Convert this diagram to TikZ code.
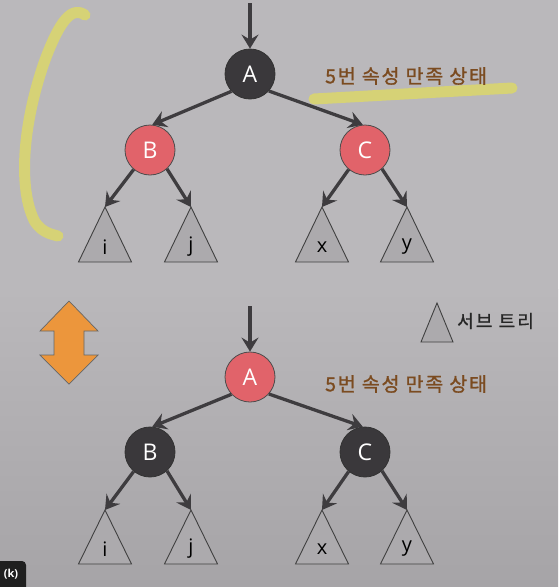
\documentclass[tikz,border=0pt]{standalone}
\usepackage{fontspec}
\setmainfont{Open Sans}
\newfontfamily\kr[LetterSpace=9,FakeBold=1.2]{Noto Sans CJK KR}
\newfontfamily\krleg[LetterSpace=12,FakeBold=0.8]{Noto Sans CJK KR}
\usetikzlibrary{arrows.meta}
\definecolor{bgtop}{RGB}{186,184,187}
\definecolor{bgbot}{RGB}{166,164,167}
\definecolor{darknode}{RGB}{58,56,59}
\definecolor{rednode}{RGB}{225,99,106}
\definecolor{edgecol}{RGB}{62,60,63}
\definecolor{trifill}{RGB}{172,170,173}
\definecolor{brownt}{RGB}{123,75,32}
\definecolor{hilite}{RGB}{214,210,118}
\definecolor{orangea}{RGB}{236,150,60}
\tikzset{
  blacknode/.style={circle,minimum size=50pt,inner sep=0pt,fill=darknode,draw=black!80,line width=0.8pt,text=white,font=\fontsize{23}{23}\selectfont},
  rednd/.style={circle,minimum size=50pt,inner sep=0pt,fill=rednode,draw=black!70,line width=0.8pt,text=white,font=\fontsize{23}{23}\selectfont},
  arr/.style={line width=3.3pt,draw=edgecol,-{Stealth[length=14pt,width=17pt,inset=5pt]}},
  subtri/.style={fill=trifill,draw=black!75,line width=0.9pt},
  leaf/.style={font=\fontsize{20}{20}\selectfont,text=black,inner sep=0pt},
  note/.style={font=\kr\fontsize{19.5}{20}\selectfont,text=brownt,anchor=west,inner sep=0pt},
  hl/.style={line width=11pt,draw=hilite,line cap=round,line join=round}
}
\begin{document}
\begin{tikzpicture}[x=1pt,y=-1pt]
\useasboundingbox (0,0) rectangle (558,587);
\fill[bgtop] (0,0) rectangle (558,290);
\shade[top color=bgtop,bottom color=bgbot] (0,289) rectangle (558,587);

% ---------- top tree ----------
\draw[hl] (85,15) .. controls (72,6) and (60,20) .. (45,60) .. controls (22,125) and (18,190) .. (35,222) .. controls (42,232) and (50,234) .. (58,236);
\draw[hl] (314,99) -- (512,88);
\node[note] (n1) at (325,76) {5번 속성 만족 상태};

\node[blacknode] (A1) at (250,74) {A};
\node[rednd] (B1) at (150,150) {B};
\node[rednd] (C1) at (365,150) {C};
\coordinate (top1) at (250,3);
\foreach \n/\x/\l in {i1/105/i,j1/191/j,x1/322/x,y1/407/y}{
  \coordinate (\n) at (\x,207);
  \draw[subtri] (\n) -- (\x-26.5,262) -- (\x+26.5,262) -- cycle;
  \node[leaf] (\n l) at (\x,247) {\l};
}
\draw[arr] (top1) -- (A1.north);
\draw[arr] (A1.223) -- (B1.85);
\draw[arr] (A1.-42) -- (C1.95);
\draw[arr] (B1.230) -- (i1);
\draw[arr] (B1.-48) -- (j1);
\draw[arr] (C1.230) -- (x1);
\draw[arr] (C1.-48) -- (y1);

% ---------- bottom tree ----------
\node[rednd] (A2) at (250,377) {A};
\node[blacknode] (B2) at (150,452) {B};
\node[blacknode] (C2) at (365,452) {C};
\coordinate (top2) at (250,306);
\foreach \n/\x/\l in {i2/105/i,j2/191/j,x2/322/x,y2/407/y}{
  \coordinate (\n) at (\x,510);
  \draw[subtri] (\n) -- (\x-26.5,564) -- (\x+26.5,564) -- cycle;
  \node[leaf] (\n l) at (\x,549) {\l};
}
\draw[arr] (top2) -- (A2.north);
\draw[arr] (A2.223) -- (B2.85);
\draw[arr] (A2.-42) -- (C2.95);
\draw[arr] (B2.230) -- (i2);
\draw[arr] (B2.-48) -- (j2);
\draw[arr] (C2.230) -- (x2);
\draw[arr] (C2.-48) -- (y2);
\node[note] (n2) at (325,384) {5번 속성 만족 상태};

% ---------- legend ----------
\draw[subtri] (437,303) -- (421,342) -- (453,342) -- cycle;
\node[font=\krleg\fontsize{18}{18}\selectfont,text=black!85,anchor=west,inner sep=0pt] (leg) at (457,321) {서브 트리};

% ---------- double arrow ----------
\draw[fill=orangea,draw=black!60,line width=0.7pt,line join=miter]
  (69,301) -- (98,331) -- (84,331) -- (84,355) -- (98,355) -- (69,384)
  -- (40,355) -- (54,355) -- (54,331) -- (40,331) -- cycle;

% ---------- badge ----------
\fill[black!88,rounded corners=4pt] (-6,561) rectangle (26,593);
\node[text=white,font=\bfseries\fontsize{11}{11}\selectfont,inner sep=0pt] (k) at (11,574) {(k)};
\end{tikzpicture}
\end{document}
